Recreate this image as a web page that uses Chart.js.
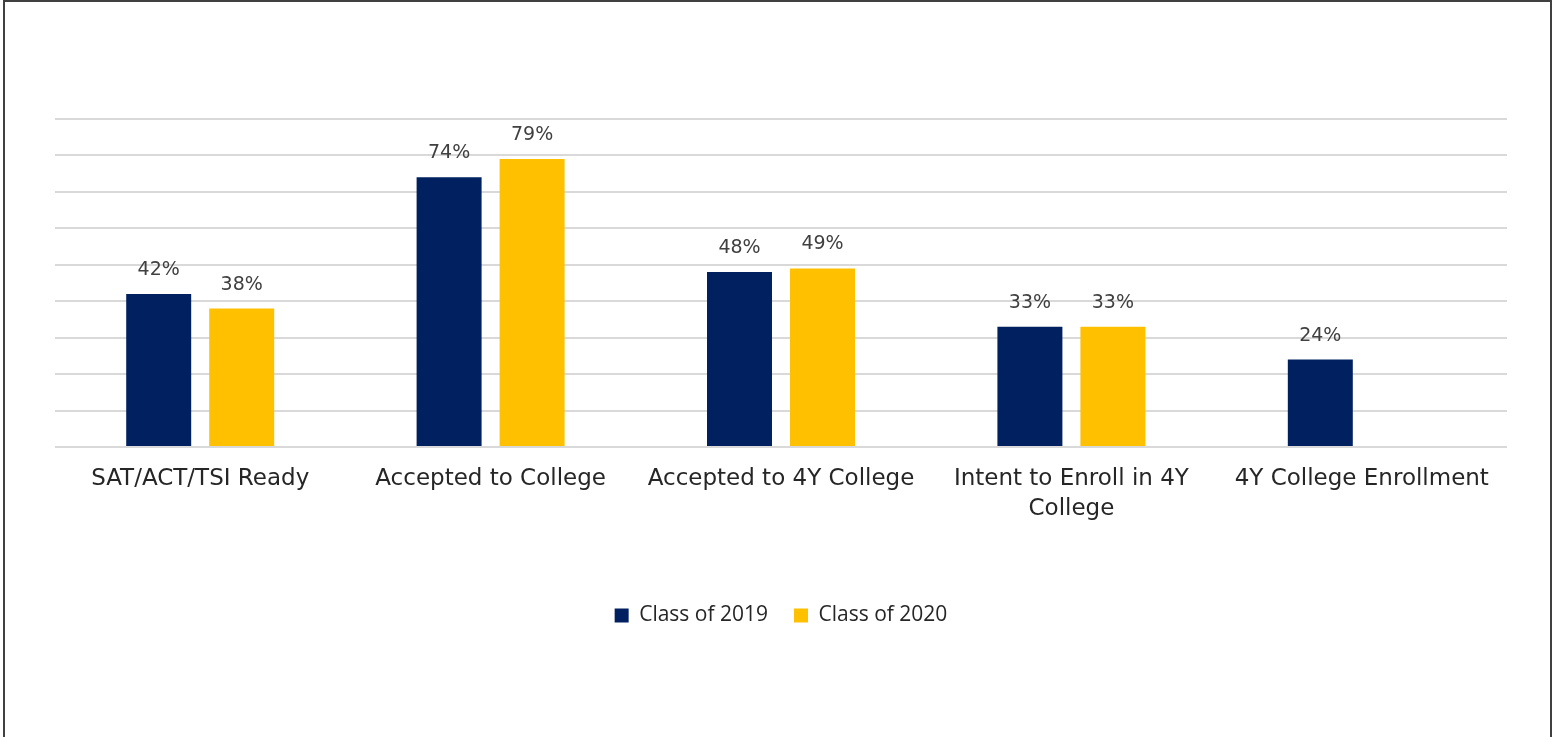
<!DOCTYPE html>
<html>
<head>
<meta charset="utf-8">
<script src="https://cdn.jsdelivr.net/npm/chart.js@4.4.1/dist/chart.umd.min.js"></script>
<style>
  html, body { margin: 0; padding: 0; background: #fff; overflow: hidden; }
  #wrap { position: absolute; left: 0; top: 0; width: 1556px; height: 737px; }
  #frame {
    position: absolute; left: 3px; top: 0; width: 1545px; height: 760px;
    border: 2px solid #404040; pointer-events: none;
  }
</style>
</head>
<body>
<div id="wrap">
  <canvas id="chart" width="1556" height="737"></canvas>
  <div id="frame"></div>
</div>
<script>
// Catégories et valeurs
const categories = [
  "SAT/ACT/TSI Ready",
  "Accepted to College",
  "Accepted to 4Y College",
  ["Intent to Enroll in 4Y", "College"],
  "4Y College Enrollment",
];
const class2019 = [42, 74, 48, 33, 24];
const class2020 = [38, 79, 49, 33, null];
const seriesNames = ["Class of 2019", "Class of 2020"];
const seriesColors = ["#002060", "#FFC000"];

/**
 * Dessine la valeur au-dessus de chaque barre.
 */
const valueLabels = {
  id: "valueLabels",
  afterDatasetsDraw(chart) {
    const ctx = chart.ctx;
    ctx.save();
    ctx.font = "19px 'DejaVu Sans'";
    ctx.fillStyle = "#404040";
    ctx.textAlign = "center";
    ctx.textBaseline = "alphabetic";
    chart.data.datasets.forEach((dataset, i) => {
      chart.getDatasetMeta(i).data.forEach((bar, j) => {
        const v = dataset.data[j];
        if (v === null) return;
        ctx.fillText(v + "%", bar.x, bar.y - 19);
      });
    });
    ctx.restore();
  },
};

const config = {
  type: "bar",
  data: {
    labels: categories,
    datasets: [
      {
        label: seriesNames[0],
        data: class2019,
        backgroundColor: seriesColors[0],
        categoryPercentage: 0.5716,
        barPercentage: 0.783,
      },
      {
        label: seriesNames[1],
        data: class2020,
        backgroundColor: seriesColors[1],
        categoryPercentage: 0.5716,
        barPercentage: 0.783,
      },
    ],
  },
  options: {
    responsive: false,
    animation: false,
    layout: { padding: { top: 119, left: 55, right: 49, bottom: 101 } },
    plugins: {
      tooltip: { enabled: false },
      legend: {
        position: "bottom",
        labels: {
          boxWidth: 14,
          boxHeight: 14,
          padding: 26,
          color: "#262626",
          font: { family: "'Open Sans'", size: 21 },
        },
      },
    },
    scales: {
      x: {
        grid: { display: false, drawTicks: false },
        border: { display: false },
        ticks: {
          padding: 17,
          color: "#262626",
          maxRotation: 0,
          autoSkip: false,
          font: { family: "'DejaVu Sans'", size: 23, lineHeight: 1.3 },
        },
        afterFit: (scale) => { scale.height = 132; },
      },
      y: {
        min: 0,
        max: 90,
        ticks: { display: false, stepSize: 10 },
        grid: { color: "#d9d9d9", lineWidth: 2, drawTicks: false },
        border: { display: false },
        afterFit: (scale) => { scale.width = 0; },
      },
    },
  },
  plugins: [valueLabels],
};

new Chart(document.getElementById("chart"), config);
</script>
</body>
</html>
